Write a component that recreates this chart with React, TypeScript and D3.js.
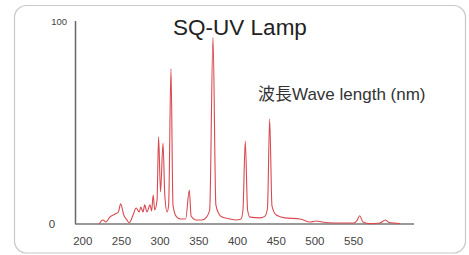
import React, { useEffect, useRef } from 'react';
import * as d3 from 'd3';

// wavelength (nm) and relative intensity
const wavelengths = [
  221, 226, 230, 235, 242, 246, 249, 253, 257, 260, 265, 269, 273, 275, 278, 280,
  283, 287, 289, 291, 293, 296, 298, 300.5, 303.7, 306, 309, 311, 314, 316.6, 320.5,
  326, 333, 337.7, 340, 346, 354, 360, 364, 368.3, 372, 376, 380, 390, 398, 404.5,
  407, 410, 413, 416, 429, 435.5, 438.7, 441.5, 444.5, 450, 461, 481, 494, 502,
  509, 526, 550, 554, 558, 562, 571, 584, 591, 596, 610,
];
const intensity = [
  0, 2, 1, 3.4, 4.9, 5.9, 9.9, 4.4, 2, 0.6, 4.4, 7.9, 5.9, 8.4, 5.9, 9.4,
  5.9, 9.4, 6.4, 14.3, 6.9, 11.8, 42.9, 15.8, 39.9, 14.3, 5.9, 9.4, 76.4, 9.4, 3.9,
  2.5, 2.5, 16.7, 3.9, 2, 2, 3.4, 6.9, 92, 9.4, 4.9, 3.4, 2.5, 2, 2.5,
  6.9, 40.9, 6.9, 3.4, 3, 3.9, 7.9, 51.7, 8.9, 4.4, 3, 2.5, 1, 1.5,
  1, 0.5, 0.5, 1.5, 4.1, 1, 0.2, 0.5, 2, 0.7, 0.2,
];
const xTicks = [200, 250, 300, 350, 400, 450, 500, 550];
const yTicks = [0, 100];

export default function App() {
  const svgRef = useRef<SVGSVGElement>(null);

  useEffect(() => {
    if (!svgRef.current) return;
    const svg = d3.select(svgRef.current);
    svg.selectAll('*').remove();

    const x = d3.scaleLinear().domain([190, 628]).range([75, 414]);
    const y = d3.scaleLinear().domain([0, 100]).range([224, 21]);

    // card frame
    svg.append('rect')
      .attr('x', 14.5).attr('y', 5.5)
      .attr('width', 451).attr('height', 247.5)
      .attr('rx', 12)
      .attr('fill', '#fff')
      .attr('stroke', '#c8c8c8')
      .attr('stroke-width', 1.2);

    svg.append('text')
      .attr('x', 240).attr('y', 35)
      .attr('text-anchor', 'middle')
      .style('font-family', 'Liberation Sans, Arial, sans-serif')
      .style('font-size', '22.5px')
      .style('fill', '#222')
      .text('SQ-UV Lamp');

    svg.append('text')
      .attr('x', 258).attr('y', 100)
      .style('font-family', 'Liberation Sans, "Noto Sans CJK JP", sans-serif')
      .style('font-size', '17px')
      .style('fill', '#333')
      .text('波長Wave length (nm)');

    // spectrum
    const pts = wavelengths.map((w, i) => [w, intensity[i]] as [number, number]);
    const line = d3.line<[number, number]>()
      .x(d => x(d[0]))
      .y(d => y(d[1]))
      .curve(d3.curveMonotoneX);

    // axes
    svg.append('line')
      .attr('x1', 75.5).attr('x2', 75.5)
      .attr('y1', y(100)).attr('y2', y(0))
      .attr('stroke', '#666').attr('stroke-width', 1.5);
    svg.append('line')
      .attr('x1', 75).attr('x2', 414)
      .attr('y1', y(0)).attr('y2', y(0))
      .attr('stroke', '#777').attr('stroke-width', 1.6);

    svg.append('path')
      .datum(pts)
      .attr('d', line)
      .attr('fill', 'none')
      .attr('stroke', '#d84a50')
      .attr('stroke-width', 1.1);

    svg.append('g').selectAll('text')
      .data(xTicks)
      .join('text')
      .attr('x', d => x(d))
      .attr('y', 245)
      .attr('text-anchor', 'middle')
      .style('font-family', 'Liberation Sans, Arial, sans-serif')
      .style('font-size', '11.5px')
      .style('fill', '#444')
      .text(d => d);

    svg.append('g').selectAll('text')
      .data(yTicks)
      .join('text')
      .attr('x', d => (d === 0 ? 52 : 67))
      .attr('y', d => y(d) + 4)
      .attr('text-anchor', d => (d === 0 ? 'middle' : 'end'))
      .style('font-family', 'Liberation Sans, Arial, sans-serif')
      .style('font-size', d => (d === 0 ? '11.5px' : '9.5px'))
      .style('fill', '#444')
      .text(d => d);
  }, []);

  return (
    <svg ref={svgRef} width={469} height={255}
      style={{ position: 'absolute', left: 0, top: 0, background: '#fff' }} />
  );
}
